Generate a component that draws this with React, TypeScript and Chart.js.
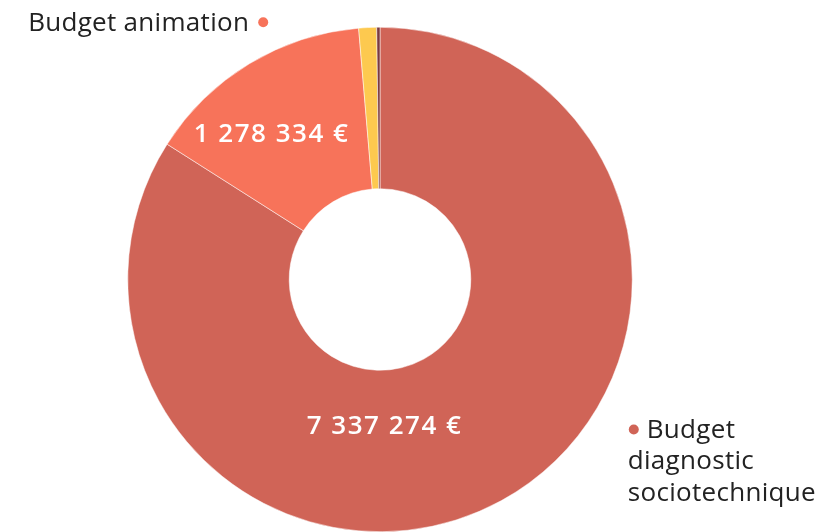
import React, { useEffect, useRef } from "react";
import { Chart, registerables } from "chart.js";

Chart.register(...registerables);

const categories = [
  "Budget diagnostic sociotechnique",
  "Budget animation",
  "Budget communication",
  "Budget autres",
];
const values = [7337274, 1278334, 100000, 18000];
const colors = ["#D06457", "#F7735A", "#FDC94F", "#7B3A40"];
const valueLabels = ["7 337 274 €", "1 278 334 €"];

const FONT = "'Open Sans', 'Noto Sans', sans-serif";

const labelPlugin = {
  id: "labelPlugin",
  afterDatasetsDraw(chart: any) {
    const ctx = chart.ctx;
    const meta = chart.getDatasetMeta(0);
    const a0 = meta.data[0];
    const cx = a0.x;
    const cy = a0.y;
    const R = a0.outerRadius;
    ctx.save();
    // inner value labels
    ctx.fillStyle = "#ffffff";
    ctx.font = `600 26px ${FONT}`;
    (ctx as any).letterSpacing = "1.5px";
    ctx.textAlign = "center";
    ctx.textBaseline = "middle";
    ctx.fillText(valueLabels[0], cx + 0.018 * R, cy + 0.585 * R);
    ctx.fillText(valueLabels[1], cx - 0.43 * R, cy - 0.575 * R);

    // outside labels
    ctx.font = `400 26px ${FONT}`;
    (ctx as any).letterSpacing = "0.3px";
    // animation label (top-left)
    const ax = cx - 0.463 * R;
    const ay = cy - 1.02 * R;
    ctx.beginPath();
    ctx.fillStyle = colors[1];
    ctx.arc(ax, ay, 5, 0, Math.PI * 2);
    ctx.fill();
    ctx.fillStyle = "#222222";
    ctx.textAlign = "right";
    ctx.fillText(categories[1], ax - 14, ay + 1);

    // diagnostic label (bottom-right)
    const dx = cx + 1.006 * R;
    const dy = cy + 0.595 * R;
    ctx.beginPath();
    ctx.fillStyle = colors[0];
    ctx.arc(dx, dy, 5, 0, Math.PI * 2);
    ctx.fill();
    ctx.fillStyle = "#222222";
    ctx.textAlign = "left";
    ctx.fillText("Budget", dx + 13, dy + 1);
    ctx.fillText("diagnostic", dx - 6, dy + 1 + 31.5);
    ctx.fillText("sociotechnique", dx - 6, dy + 1 + 63);
    ctx.restore();
  },
};

export default function App() {
  const ref = useRef<HTMLCanvasElement>(null);
  useEffect(() => {
    document.body.style.margin = "0";
    const chart = new Chart(ref.current!, {
      type: "doughnut",
      data: {
        labels: categories,
        datasets: [
          {
            data: values,
            backgroundColor: colors,
            borderColor: "#ffffff",
            borderWidth: 0.5,
            hoverOffset: 0,
          },
        ],
      },
      options: {
        responsive: false,
        animation: false,
        cutout: "36%",
        layout: { padding: { top: 27, bottom: 0, left: 0, right: 67 } },
        plugins: {
          legend: { display: false },
          tooltip: { enabled: false },
        },
      },
      plugins: [labelPlugin],
    });
    return () => chart.destroy();
  }, []);
  return (
    <div style={{ position: "absolute", left: 0, top: 0, width: 827, height: 532, background: "#fff" }}>
      <canvas ref={ref} width={827} height={532} style={{ width: 827, height: 532 }} />
    </div>
  );
}
